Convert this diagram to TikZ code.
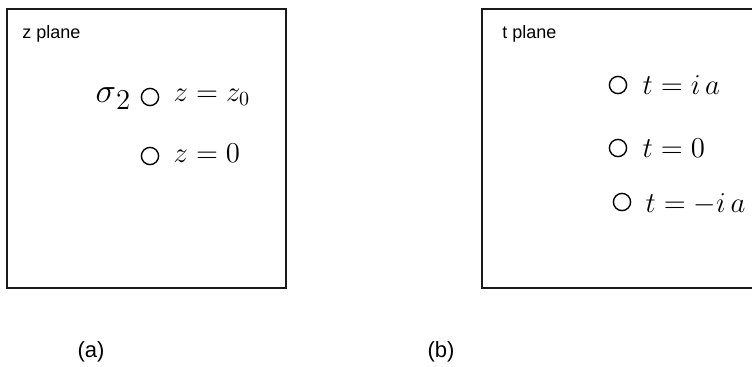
\documentclass[tikz,border=0pt]{standalone}
\usepackage{fontspec}
\setsansfont{Liberation Sans}
\usepackage{tikz}
\usetikzlibrary{positioning}
\definecolor{pink}{HTML}{000000}
\definecolor{pgrey}{HTML}{1A1A1A}

\begin{document}
\begin{tikzpicture}[x=0.5pt,y=-0.5pt,every node/.style={inner sep=0pt},
  plane/.style={draw=pgrey,line width=0.7pt},
  pole/.style={circle,draw=pink,line width=0.7pt,minimum size=8.6pt},
  tag/.style={font=\sffamily\fontsize{9}{11}\selectfont,text=pink},
  eq/.style={font=\fontsize{14.4}{17}\selectfont,text=pink}]
  \useasboundingbox (0,0) rectangle (752,366);

  % z plane
  \draw[plane] (7,9) rectangle (286,288);
  \node[tag,anchor=west] (zname) at (22,34) {z plane};
  \node[pole] (zp) at (150,97) {};
  \node[eq,right=7pt of zp] (zplab) {$z=z_0$};
  \node[eq,font=\fontsize{18}{20}\selectfont,left=5pt of zp,yshift=-1pt] (sigma)
    {$\sigma$\raisebox{-3.5pt}{\fontsize{14.4}{17}\selectfont 2}};
  \node[pole] (zo) at (150,156) {};
  \node[eq,right=7pt of zo,yshift=1.5pt] (zolab) {$z=0$};

  % t plane
  \draw[plane] (482,9) rectangle (760,288);
  \node[tag,anchor=west] (tname) at (502,34) {t plane};
  \node[pole] (tp) at (618,85) {};
  \node[eq,right=7.5pt of tp] (tplab) {$t=i\,a$};
  \node[pole] (to) at (618,148) {};
  \node[eq,right=7.5pt of to] (tolab) {$t=0$};
  \node[pole] (tm) at (622,202) {};
  \node[eq,right=7pt of tm,yshift=-1pt] (tmlab) {$t=-i\,a$};

  % captions
  \node[tag,font=\sffamily\fontsize{11}{13}\selectfont] (capa) at (91,352) {(a)};
  \node[tag,font=\sffamily\fontsize{11}{13}\selectfont] (capb) at (441,352) {(b)};
\end{tikzpicture}
\end{document}
